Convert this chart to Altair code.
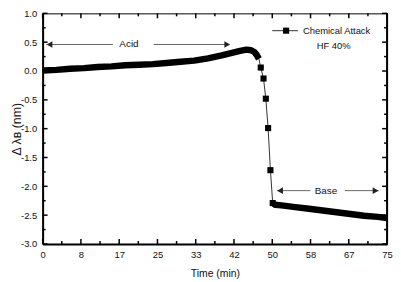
import altair as alt
import pandas as pd

# ---- data ----
time_acid = [0, 3, 6, 9, 12, 15, 18, 21, 24, 27, 30, 33, 36, 39, 41, 43, 44.4, 45.4, 46.1, 46.6, 47.1]
shift_acid = [0.01, 0.02, 0.04, 0.05, 0.07, 0.08, 0.10, 0.11, 0.12, 0.14, 0.16, 0.18, 0.22, 0.27, 0.31, 0.35, 0.37, 0.36, 0.33, 0.28, 0.21]
time_drop = [47.5, 48.1, 48.6, 49.1, 49.6]
shift_drop = [0.06, -0.13, -0.48, -0.99, -1.72]
time_base = [50.1, 50.6, 52, 55, 58, 61, 64, 67, 70, 73, 75]
shift_base = [-2.29, -2.32, -2.33, -2.36, -2.39, -2.42, -2.45, -2.48, -2.51, -2.53, -2.55]

x_major = [0, 25 / 3, 50 / 3, 25, 100 / 3, 125 / 3, 50, 175 / 3, 200 / 3, 75]
x_minor = [(x_major[i] + x_major[i + 1]) / 2 for i in range(9)]
y_major = [-3.0, -2.5, -2.0, -1.5, -1.0, -0.5, 0.0, 0.5, 1.0]
y_minor = [-2.75, -2.25, -1.75, -1.25, -0.75, -0.25, 0.25, 0.75]

arrow_labels = ["Acid", "Base"]
arrow_label_t = [18.8, 61.7]
arrow_v = [0.46, -2.075]
arrow_seg_t1 = [0.8, 24.2, 51.0, 65.8]
arrow_seg_t2 = [15.3, 40.5, 58.3, 73.2]
arrow_seg_v = [0.46, 0.46, -2.075, -2.075]
head_left_t = [1.5, 51.7]
head_right_t = [40.2, 72.5]

legend_label = "Chemical Attack"
legend_note = "HF 40%"

W, H = 348, 233
FONT = "Liberation Sans, Arial, sans-serif"

xs = alt.Scale(domain=[0, 75], nice=False, zero=False)
ys = alt.Scale(domain=[-3, 1], nice=False, zero=False)

all_t = time_acid + time_drop + time_base
all_v = shift_acid + shift_drop + shift_base
df_all = pd.DataFrame({"t": all_t, "v": all_v, "o": list(range(len(all_t)))})
df_thick = pd.DataFrame({
    "t": time_acid + time_base,
    "v": shift_acid + shift_base,
    "seg": ["acid"] * len(time_acid) + ["base"] * len(time_base),
    "o": list(range(len(time_acid) + len(time_base))),
})
df_drop = pd.DataFrame({"t": time_drop + time_base[:1], "v": shift_drop + shift_base[:1]})

thin = alt.Chart(df_all).mark_line(color="#333333", strokeWidth=1).encode(
    x=alt.X("t:Q", scale=xs, title="Time (min)",
            axis=alt.Axis(values=x_major, tickCount=30, format=".0f", tickSize=0, labelPadding=6,
                          labelOverlap=False, labelFlush=False,
                          domainColor="black", domainWidth=2, grid=False,
                          titleX=174, titleY=25)),
    y=alt.Y("v:Q", scale=ys, title="Δ λʙ (nm)",
            axis=alt.Axis(values=y_major, tickCount=30, format=".1f", tickSize=0, labelPadding=6,
                          labelOverlap=False, labelFlush=False,
                          labelExpr="replace(datum.label, '−', '-')",
                          domainColor="black", domainWidth=2, grid=False,
                          titleFontSize=12.5,
                          titleX=-19, titleY=116.5)),
    order="o:Q",
)

thick = alt.Chart(df_thick).mark_line(color="black", strokeWidth=6.5, strokeCap="butt", strokeJoin="round").encode(
    x="t:Q", y="v:Q", detail="seg:N", order="o:Q"
)

squares = alt.Chart(df_drop).mark_point(shape="square", filled=True, size=38, color="black", opacity=1).encode(
    x="t:Q", y="v:Q"
)

df_xmaj = pd.DataFrame({"t": x_major})
df_xmin = pd.DataFrame({"t": x_minor})
df_ymaj = pd.DataFrame({"v": y_major})
df_ymin = pd.DataFrame({"v": y_minor})

tick_layers = [
    alt.Chart(df_xmaj).mark_rule(color="black", strokeWidth=1.5).encode(x="t:Q", y=alt.value(H), y2=alt.value(H - 5)),
    alt.Chart(df_xmin).mark_rule(color="black", strokeWidth=1.5).encode(x="t:Q", y=alt.value(H), y2=alt.value(H - 3)),
    alt.Chart(df_xmaj).mark_rule(color="black", strokeWidth=1.5).encode(x="t:Q", y=alt.value(0), y2=alt.value(5)),
    alt.Chart(df_xmin).mark_rule(color="black", strokeWidth=1.5).encode(x="t:Q", y=alt.value(0), y2=alt.value(3)),
    alt.Chart(df_ymaj).mark_rule(color="black", strokeWidth=1.5).encode(y="v:Q", x=alt.value(0), x2=alt.value(5)),
    alt.Chart(df_ymin).mark_rule(color="black", strokeWidth=1.5).encode(y="v:Q", x=alt.value(0), x2=alt.value(3)),
    alt.Chart(df_ymaj).mark_rule(color="black", strokeWidth=1.5).encode(y="v:Q", x=alt.value(W), x2=alt.value(W - 5)),
    alt.Chart(df_ymin).mark_rule(color="black", strokeWidth=1.5).encode(y="v:Q", x=alt.value(W), x2=alt.value(W - 3)),
]

right_border = alt.Chart(pd.DataFrame({"a": [0]})).mark_rule(color="black", strokeWidth=2).encode(
    x=alt.value(W), y=alt.value(0), y2=alt.value(H)
)

df_seg = pd.DataFrame({"t": arrow_seg_t1, "t2": arrow_seg_t2, "v": arrow_seg_v})
seg = alt.Chart(df_seg).mark_rule(color="#666666", strokeWidth=1).encode(x="t:Q", x2="t2:Q", y="v:Q")
df_hl = pd.DataFrame({"t": head_left_t, "v": arrow_v})
df_hr = pd.DataFrame({"t": head_right_t, "v": arrow_v})
head_l = alt.Chart(df_hl).mark_point(shape="triangle-left", filled=True, size=45, color="#222222", opacity=1).encode(x="t:Q", y="v:Q")
head_r = alt.Chart(df_hr).mark_point(shape="triangle-right", filled=True, size=45, color="#222222", opacity=1).encode(x="t:Q", y="v:Q")
df_lab = pd.DataFrame({"t": arrow_label_t, "v": arrow_v, "lab": arrow_labels})
labs = alt.Chart(df_lab).mark_text(font=FONT, fontSize=10, color="#111111", baseline="middle", align="center").encode(
    x="t:Q", y="v:Q", text="lab:N"
)

one = pd.DataFrame({"a": [0]})
leg_line = alt.Chart(one).mark_rule(color="#333333", strokeWidth=1).encode(x=alt.value(232), x2=alt.value(258), y=alt.value(17.5))
leg_sq = alt.Chart(one).mark_point(shape="square", filled=True, size=38, color="black", opacity=1).encode(x=alt.value(246), y=alt.value(17.5))
leg_txt = alt.Chart(one).mark_text(text=legend_label, font=FONT, fontSize=9.5, align="left", baseline="middle", color="#111111").encode(
    x=alt.value(263), y=alt.value(17.5))
leg_txt2 = alt.Chart(one).mark_text(text=legend_note, font=FONT, fontSize=9.5, align="center", baseline="middle", color="#111111").encode(
    x=alt.value(294), y=alt.value(33.5))

chart = alt.layer(
    thin, thick, squares, *tick_layers, right_border, seg, head_l, head_r, labs,
    leg_line, leg_sq, leg_txt, leg_txt2
).properties(
    width=W, height=H,
    autosize=alt.AutoSizeParams(type="none"),
    padding={"left": 35, "top": 4, "right": 6, "bottom": 36},
).configure_view(
    stroke="black", strokeWidth=1
).configure_axis(
    labelFont=FONT, labelFontSize=9.5, labelColor="#111111",
    labelOverlap=False, labelFlush=False,
    titleFont=FONT, titleFontSize=10.5, titleFontWeight="normal", titleColor="#111111",
)

chart.save("out.html", embed_options={"renderer": "svg", "actions": False})
